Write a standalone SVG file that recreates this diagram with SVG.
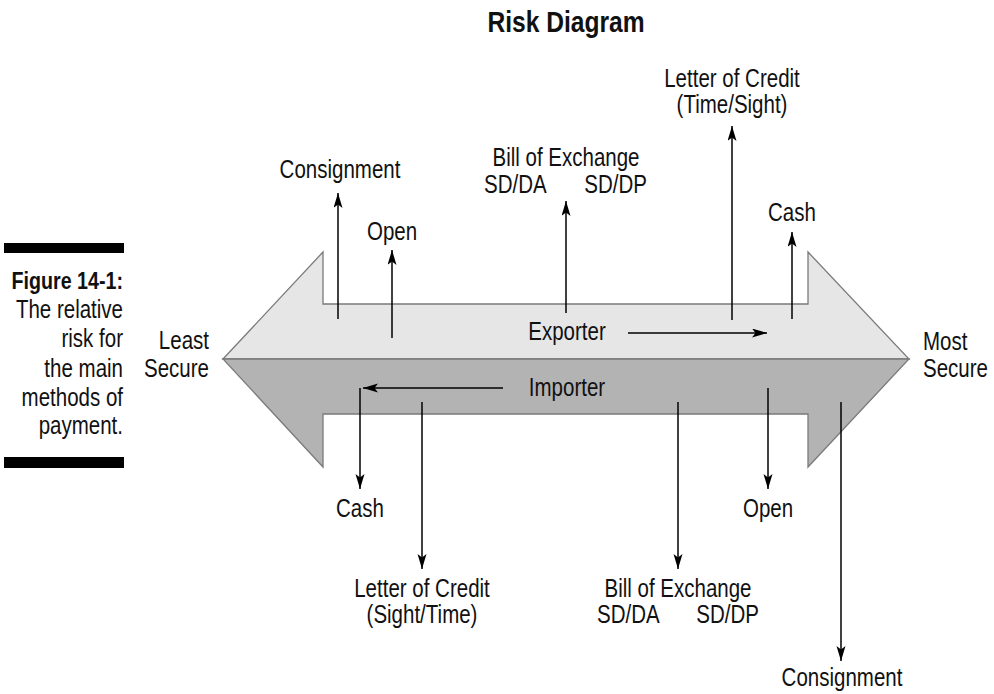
<svg xmlns="http://www.w3.org/2000/svg" width="994" height="694" viewBox="0 0 994 694">
<style>
text{font-family:"Liberation Sans",Arial,sans-serif;font-size:25px;fill:#111}
.c{text-anchor:middle}
.r{text-anchor:end}
.b{font-weight:bold}
.ln{stroke:#000;stroke-width:1.5;fill:none}
.arw{marker-end:url(#ah)}
</style>
<defs>
<marker id="ah" markerUnits="userSpaceOnUse" markerWidth="16" markerHeight="10" refX="15" refY="4.5" orient="auto">
<path d="M0,0 L15,4.5 L0,9 L3.5,4.5 Z" fill="#000"/>
</marker>
</defs>
<rect width="994" height="694" fill="#fff"/>
<g id="title"><text class="c b" transform="translate(566,32) scale(0.82,1)" style="font-size:30px">Risk Diagram</text></g>
<g id="caption">
<rect x="4" y="243" width="120" height="10" fill="#000"/>
<rect x="4" y="457" width="120" height="11" fill="#000"/>
<text class="r b" transform="translate(123,289) scale(0.82,1)" style="font-size:24px">Figure 14-1:</text>
<text class="r" transform="translate(123,318) scale(0.82,1)">The relative</text>
<text class="r" transform="translate(123,347) scale(0.82,1)">risk for</text>
<text class="r" transform="translate(123,377) scale(0.82,1)">the main</text>
<text class="r" transform="translate(123,406) scale(0.82,1)">methods of</text>
<text class="r" transform="translate(123,434) scale(0.82,1)">payment.</text>
</g>
<g id="exporter-arrow">
<path d="M223,359 L323,252 L323,304 L808,304 L808,252 L909,359 Z" fill="#e6e6e6" stroke="#7a7a7a" stroke-width="1.3"/>
</g>
<g id="importer-arrow">
<path d="M223,359 L909,359 L808,467 L808,414 L323,414 L323,467 Z" fill="#b3b3b3" stroke="#7a7a7a" stroke-width="1.3"/>
</g>
<g id="least-secure"><text class="r" transform="translate(209,349) scale(0.82,1)">Least</text><text class="r" transform="translate(209,377) scale(0.82,1)">Secure</text></g>
<g id="most-secure"><text transform="translate(923,350) scale(0.82,1)">Most</text><text transform="translate(923,377) scale(0.82,1)">Secure</text></g>
<g id="exporter"><text class="c" transform="translate(567,340) scale(0.82,1)">Exporter</text></g>
<g id="importer"><text class="c" transform="translate(567,396) scale(0.82,1)">Importer</text></g>
<g id="exp-consignment"><text class="c" transform="translate(340,178) scale(0.82,1)">Consignment</text></g>
<g id="exp-open"><text class="c" transform="translate(392,240) scale(0.82,1)">Open</text></g>
<g id="exp-bill"><text class="c" transform="translate(566,166) scale(0.82,1)">Bill of Exchange</text><text transform="translate(484,193) scale(0.82,1)">SD/DA</text><text class="r" transform="translate(647,193) scale(0.82,1)">SD/DP</text></g>
<g id="exp-loc"><text class="c" transform="translate(732,87) scale(0.82,1)">Letter of Credit</text><text class="c" transform="translate(732,113) scale(0.82,1)">(Time/Sight)</text></g>
<g id="exp-cash"><text class="c" transform="translate(792,221) scale(0.82,1)">Cash</text></g>
<g id="imp-cash"><text class="c" transform="translate(360,517) scale(0.82,1)">Cash</text></g>
<g id="imp-loc"><text class="c" transform="translate(422,597) scale(0.82,1)">Letter of Credit</text><text class="c" transform="translate(422,623) scale(0.82,1)">(Sight/Time)</text></g>
<g id="imp-bill"><text class="c" transform="translate(678,597) scale(0.82,1)">Bill of Exchange</text><text transform="translate(597,623) scale(0.82,1)">SD/DA</text><text class="r" transform="translate(759,623) scale(0.82,1)">SD/DP</text></g>
<g id="imp-open"><text class="c" transform="translate(768,517) scale(0.82,1)">Open</text></g>
<g id="imp-consignment"><text class="c" transform="translate(842,686) scale(0.82,1)">Consignment</text></g>
<g id="connectors">
<path class="ln arw" d="M338,319 L338,193"/>
<path class="ln arw" d="M392,338 L392,250"/>
<path class="ln arw" d="M566,313 L566,201"/>
<path class="ln arw" d="M732,320 L732,126"/>
<path class="ln arw" d="M792,319 L792,232"/>
<path class="ln arw" d="M628,333 L767,333"/>
<path class="ln arw" d="M503,388 L363,388"/>
<path class="ln arw" d="M360,388 L360,489"/>
<path class="ln arw" d="M422,402 L422,569"/>
<path class="ln arw" d="M678,402 L678,569"/>
<path class="ln arw" d="M768,388 L768,489"/>
<path class="ln arw" d="M841,402 L841,661"/>
</g>
</svg>
